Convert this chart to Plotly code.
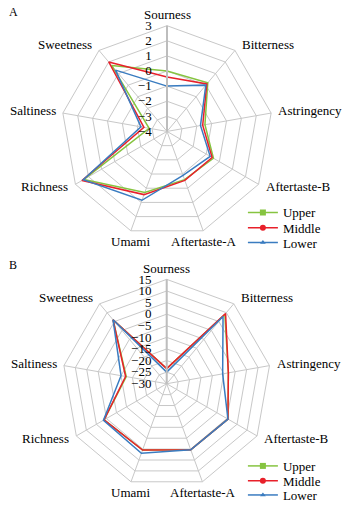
import math
import plotly.graph_objects as go

categories = ["Sourness", "Bitterness", "Astringency", "Aftertaste-B", "Aftertaste-A",
              "Umami", "Richness", "Saltiness", "Sweetness"]

a_upper = [0.0, 0.2, -1.45, -0.45, -0.6, 0.3, 2.35, -2.8, 1.7]
a_middle = [-0.4, 0.1, -1.6, -0.55, -0.55, 0.45, 2.5, -2.45, 2.0]
a_lower = [-1.0, 0.0, -1.75, -0.7, -0.9, 0.85, 2.4, -2.25, 1.3]

b_upper = [-23.5, 9.0, -3.0, 0.5, 0.3, 0.4, 1.2, -12.3, 6.0]
b_middle = [-23.5, 9.5, -3.0, 0.5, 0.3, 0.4, 1.2, -12.0, 6.0]
b_lower = [-25.0, 7.8, -5.5, 0.5, 0.3, 1.9, 1.5, -10.0, 6.0]

series_names = ["Upper", "Middle", "Lower"]
colors = ["#86c440", "#e8202a", "#3a7cc0"]
symbols = ["square", "circle", "triangle-up"]
sizes = [6, 6, 5]

FONT = '"Liberation Serif", "Times New Roman", serif'
FS = 13
W, H = 350, 510

# polar geometry in pixels: (centre x, centre y, radius)
geom_a = (167.0, 133.0, 107.0)
geom_b = (166.7, 388.3, 105.6)

fig = go.Figure()

legend_names_a = ["legend", "legend2", "legend3"]
legend_names_b = ["legend4", "legend5", "legend6"]

def add_set(values_list, polar, legends):
    for name, vals, col, sym, sz, lg in zip(series_names, values_list, colors, symbols, sizes, legends):
        fig.add_trace(go.Scatterpolar(
            r=vals + vals[:1], theta=categories + categories[:1],
            mode="lines+markers", name=name, subplot=polar, legend=lg,
            showlegend=True,
            line=dict(color=col, width=1.5),
            marker=dict(symbol=sym, size=sz, color=col),
        ))

add_set([a_upper, a_middle, a_lower], "polar", legend_names_a)
add_set([b_upper, b_middle, b_lower], "polar2", legend_names_b)

grid = "#c8c8c8"
PAD = "\u00a0\u00a0\u00a0"

def polar_layout(geom, rng, dtick):
    cx, cy, r = geom
    domx = [(cx - r) / W, (cx + r) / W]
    domy = [1 - (cy + r) / H, 1 - (cy - r) / H]
    return dict(
        domain=dict(x=domx, y=domy),
        gridshape="linear",
        bgcolor="white",
        angularaxis=dict(direction="clockwise", rotation=90, categoryorder="array",
                         categoryarray=categories, gridcolor=grid, linecolor=grid,
                         linewidth=1, showline=True, ticks="", showticklabels=False),
        radialaxis=dict(range=rng, dtick=dtick, angle=90, tickangle=90,
                        gridcolor=grid, linecolor="#bdbdbd", linewidth=2,
                        showline=True, ticks="", side="counterclockwise",
                        ticksuffix=PAD,
                        tickfont=dict(family=FONT, size=FS, color="black")),
    )

def category_labels(geom):
    cx, cy, r = geom
    out = []
    n = len(categories)
    for i, cat in enumerate(categories):
        th = 2 * math.pi * i / n
        s, c = math.sin(th), math.cos(th)
        vx, vy = cx + r * s, cy - r * c
        if abs(s) < 0.5:
            x, y, xa = vx, vy - 11 * c, "center"
        else:
            x, y = vx + 4 * (1 if s > 0 else -1), vy - 7 * c - 1
            xa = "left" if s > 0 else "right"
        out.append(dict(text=cat, x=x / W, y=1 - y / H, xref="paper", yref="paper",
                        showarrow=False, xanchor=xa, yanchor="middle",
                        font=dict(family=FONT, size=FS, color="black")))
    return out

def legend_box(ypx):
    return dict(x=0.694, y=1 - ypx / H, xanchor="left", yanchor="middle",
                font=dict(family=FONT, size=FS, color="black"),
                bgcolor="rgba(0,0,0,0)", itemwidth=30, visible=True)

legend_rows_a = [215, 230.5, 245.5]
legend_rows_b = [471.5, 486.5, 501]

layout_legends = {}
for lg, ypx in zip(legend_names_a + legend_names_b, legend_rows_a + legend_rows_b):
    layout_legends[lg] = legend_box(ypx)

annotations = category_labels(geom_a) + category_labels(geom_b) + [
    dict(text="A", x=13 / W, y=1 - 12 / H, xref="paper", yref="paper", showarrow=False,
         xanchor="center", yanchor="middle", font=dict(family=FONT, size=12, color="black")),
    dict(text="B", x=13 / W, y=1 - 268 / H, xref="paper", yref="paper", showarrow=False,
         xanchor="center", yanchor="middle", font=dict(family=FONT, size=12, color="black")),
]

fig.update_layout(
    width=W, height=H,
    margin=dict(l=0, r=0, t=0, b=0),
    showlegend=True,
    paper_bgcolor="white", plot_bgcolor="white",
    font=dict(family=FONT, size=FS, color="black"),
    polar=polar_layout(geom_a, [-4, 3], 1),
    polar2=polar_layout(geom_b, [-30, 15], 5),
    annotations=annotations,
    **layout_legends,
)

fig.write_html("out.html")
